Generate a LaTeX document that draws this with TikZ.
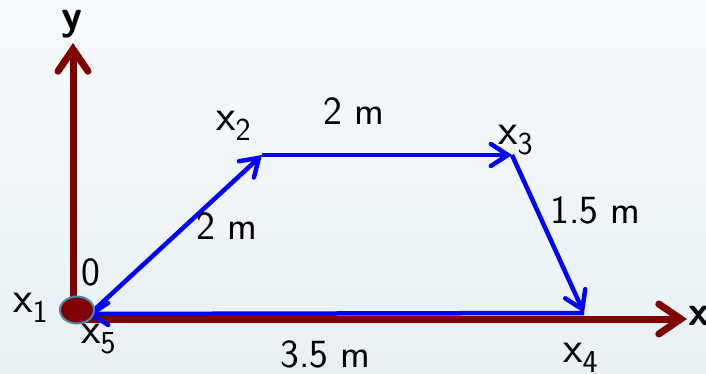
\documentclass[tikz,border=0pt]{standalone}
\usetikzlibrary{arrows.meta,shapes.geometric}
\definecolor{axisred}{HTML}{800000}
\definecolor{vecblue}{HTML}{0000FF}
\definecolor{ringteal}{HTML}{4A8CAE}
\definecolor{bgtop}{HTML}{F7FBFE}
\definecolor{bgbot}{HTML}{E8F0F4}
\tikzset{
  axis/.style={draw=axisred, line width=7pt, -{Straight Barb[length=22pt, width=30pt, line cap=round]}},
  vec/.style={draw=vecblue, line width=4.5pt, -{Straight Barb[length=17pt, width=22pt, line cap=round]}},
  lbl/.style={inner sep=0pt, anchor=base west, font=\sffamily\fontsize{40}{42}\selectfont},
  axlbl/.style={inner sep=0pt, anchor=base west, font=\sffamily\bfseries\fontsize{42}{44}\selectfont},
}
\newcommand{\xs}[1]{{\fontsize{45}{46}\selectfont x}\raisebox{-10pt}{\fontsize{32}{34}\selectfont #1}}
\begin{document}
\begin{tikzpicture}[x=1pt, y=-1pt]
  \shade[top color=bgtop, bottom color=bgbot] (0,0) rectangle (706,374);
  \useasboundingbox (0,0) rectangle (706,374);
  % points
  \coordinate (O) at (73,319);
  \coordinate (ybot) at (73,322);
  \coordinate (yend) at (73,43);
  \coordinate (xend) at (687,319);
  \coordinate (A) at (92,312);
  \coordinate (B) at (262,155);
  \coordinate (C) at (512,155);
  \coordinate (D) at (584,313);
  \coordinate (E) at (87,314);
  % axes
  \draw[axis] (ybot) -- (yend);
  \draw[axis] (O) -- (xend);
  % vectors
  \draw[vec] (A) -- (B);
  \draw[vec] (B) -- (C);
  \draw[vec] (C) -- (D);
  \draw[vec] (D) -- (E);
  % origin dot
  \node (dot) [ellipse, minimum width=34pt, minimum height=27pt, inner sep=0pt, fill=axisred, draw=ringteal, line width=2pt] at (77,310) {};
  % labels
  \node[axlbl] (ylab) at (61,30) {y};
  \node[axlbl] (xlab) at (688,325) {x};
  \node[lbl] (l1) at (13,312) {\xs{1}};
  \node[lbl] (l0) at (81,285) {0};
  \node[lbl] (l5) at (81,343) {\xs{5}};
  \node[lbl] (l2) at (216,131) {\xs{2}};
  \node[lbl] (m1) at (323,125) {2 m};
  \node[lbl] (l3) at (498,145) {\xs{3}};
  \node[lbl] (m2) at (550,223) {1.5 m};
  \node[lbl] (m3) at (196,239) {2 m};
  \node[lbl] (l4) at (563,362) {\xs{4}};
  \node[lbl] (m4) at (280,367) {3.5 m};
\end{tikzpicture}
\end{document}
